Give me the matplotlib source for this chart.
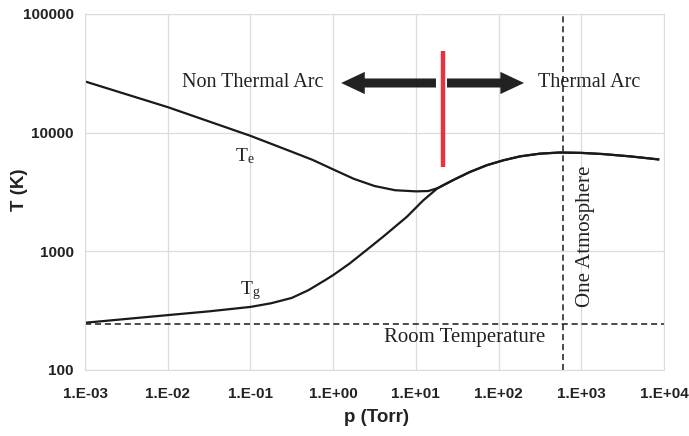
import numpy as np
import matplotlib
matplotlib.use("Agg")
import matplotlib.pyplot as plt
from matplotlib.ticker import FixedLocator, FuncFormatter, NullLocator

plt.rcParams['mathtext.fontset'] = 'custom'
plt.rcParams['mathtext.rm'] = 'Liberation Serif'
plt.rcParams['mathtext.it'] = 'Liberation Serif:italic'

# electron temperature (log10 of pressure in Torr, T in K)
te_logp = [-3.0, -2.0, -1.0, -0.5, -0.25, 0.0, 0.25, 0.5, 0.75, 1.0, 1.15, 1.26,
           1.45, 1.65, 1.86, 2.06, 2.26, 2.5, 2.74, 3.0, 3.26, 3.6, 3.93]
te_vals = [27000, 16400, 9400, 6900, 5900, 4900, 4080, 3550, 3270, 3200, 3220, 3400,
           3980, 4650, 5320, 5850, 6310, 6650, 6800, 6750, 6600, 6300, 5950]

# gas temperature
tg_logp = [-3.0, -2.0, -1.5, -1.0, -0.75, -0.5, -0.3, -0.1, 0.0, 0.2, 0.4, 0.6,
           0.89, 1.09, 1.26, 1.45, 1.65, 1.86, 2.06, 2.26, 2.5, 2.74, 3.0, 3.26,
           3.6, 3.93]
tg_vals = [250, 290, 312, 340, 365, 405, 470, 570, 630, 790, 1020, 1320,
           1950, 2690, 3390, 3980, 4650, 5320, 5850, 6310, 6650, 6800, 6750, 6600,
           6300, 5950]

room_temp = 246
one_atm = 600          # Torr, where the vertical dashed line sits
split_p = 21.3         # red divider
split_T = [5120, 48800]
arrow_T = 26200
left_arrow = [17.5, 1.25]    # tail, tip
right_arrow = [23.8, 203]

xticks = [1e-3, 1e-2, 1e-1, 1e0, 1e1, 1e2, 1e3, 1e4]
yticks = [100, 1000, 10000, 100000]

te_p = [10 ** v for v in te_logp]
tg_p = [10 ** v for v in tg_logp]

fig = plt.figure(figsize=(6.89, 4.36), dpi=100)
ax = fig.add_axes([0.1234, 0.1514, 0.8403, 0.8166])
ax.set_xscale('log')
ax.set_yscale('log')
ax.set_xlim(1e-3, 1e4)
ax.set_ylim(100, 100000)

grid_c = '#dcdcdc'
ax.xaxis.set_major_locator(FixedLocator(xticks))
ax.yaxis.set_major_locator(FixedLocator(yticks))
ax.xaxis.set_minor_locator(NullLocator())
ax.yaxis.set_minor_locator(NullLocator())
ax.xaxis.set_major_formatter(FuncFormatter(lambda v, pos: "1.E%+03d" % int(round(np.log10(v)))))
ax.yaxis.set_major_formatter(FuncFormatter(lambda v, pos: "%d" % v))
ax.grid(True, color=grid_c, linewidth=0.9)
ax.set_axisbelow(True)
for s in ax.spines.values():
    s.set_color(grid_c)
ax.tick_params(length=0)
ax.tick_params(axis='x', pad=12)
ax.tick_params(axis='y', pad=8)
for lab in ax.get_xticklabels() + ax.get_yticklabels():
    lab.set_fontfamily('Liberation Sans')
    lab.set_fontweight('bold')
    lab.set_fontsize(11)
    lab.set_color('#222222')

line_c = '#1a1a1a'
ax.plot(te_p, te_vals, color=line_c, lw=1.6)
ax.plot(tg_p, tg_vals, color=line_c, lw=1.6)

ax.axhline(room_temp, color=line_c, lw=1.1, ls=(0, (4, 2.5)))
ax.axvline(one_atm, color=line_c, lw=1.1, ls=(0, (4, 2.5)))

ax.plot([split_p, split_p], split_T, color='#e8323c', lw=3.2, solid_capstyle='butt')

arrow_style = 'simple,head_length=17,head_width=16,tail_width=6.5'
for tail, tip in [left_arrow, right_arrow]:
    ax.annotate('', xy=(tip, arrow_T), xytext=(tail, arrow_T),
                arrowprops=dict(arrowstyle=arrow_style, mutation_scale=1,
                                color='#222222', shrinkA=0, shrinkB=0, lw=0))

serif = 'Liberation Serif'
txt_c = '#222222'
ax.text(0.107, arrow_T, 'Non Thermal Arc', family=serif, fontsize=14.5,
        color=txt_c, ha='center', va='center')
ax.text(1240, arrow_T, 'Thermal Arc', family=serif, fontsize=14.5,
        color=txt_c, ha='center', va='center')
ax.text(0.085, 6300, r'$\mathregular{T_e}$', family=serif, fontsize=14,
        color=txt_c, ha='center', va='center')
ax.text(0.1, 470, r'$\mathregular{T_g}$', family=serif, fontsize=14,
        color=txt_c, ha='center', va='center')
ax.text(1110, 1340, 'One Atmosphere', family=serif, fontsize=15,
        color=txt_c, ha='center', va='center', rotation=90)
ax.text(39, 188, 'Room Temperature', family=serif, fontsize=15,
        color=txt_c, ha='center', va='center')

fig.text(20 / 689, 1 - 190 / 436, 'T (K)', rotation=90, ha='center', va='center',
         family='Liberation Sans', fontweight='bold', fontsize=13.5, color=txt_c)
fig.text(377 / 689, 1 - 417 / 436, 'p (Torr)', ha='center', va='center',
         family='Liberation Sans', fontweight='bold', fontsize=13.5, color=txt_c)

fig.savefig('out.png', dpi=100)
